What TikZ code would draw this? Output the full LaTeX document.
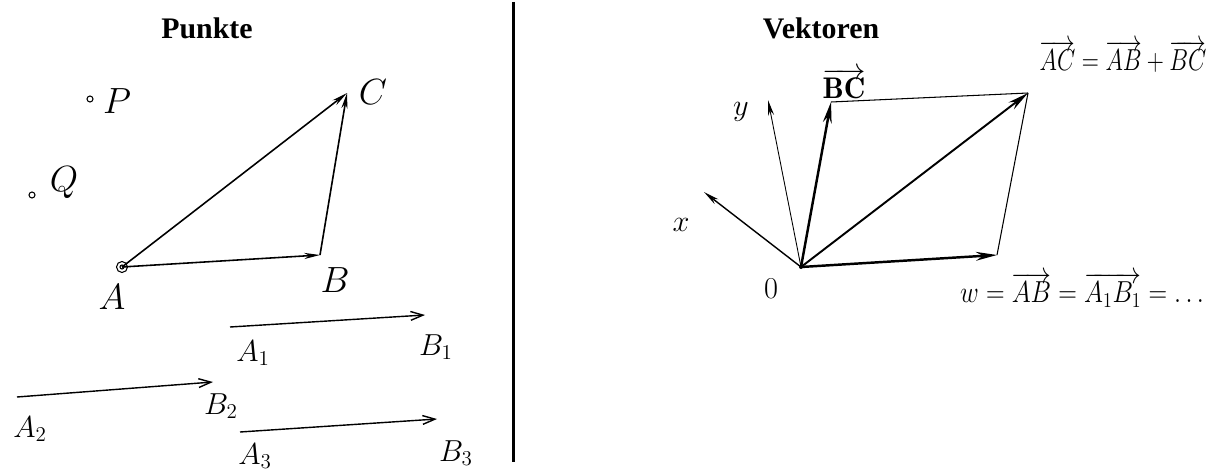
\documentclass[tikz,border=0pt]{standalone}
\usepackage{fontspec}
\usepackage{graphicx}
\newfontfamily\titlefont{Liberation Serif}
\usetikzlibrary{arrows.meta}
\begin{document}
\begin{tikzpicture}[x=0.02cm,y=-0.02cm,
  ttl/.style={font=\titlefont\bfseries\fontsize{17}{20}\selectfont, anchor=base},
  lbl/.style={font=\fontsize{20}{24}\selectfont, inner sep=0pt},
  slbl/.style={font=\fontsize{17}{20}\selectfont, inner sep=0pt},
  thin vec/.style={line width=0.6pt, -{Stealth[length=9pt,width=3.5pt]}},
  thick vec/.style={line width=1.4pt, -{Stealth[length=12pt,width=5pt]}},
  open vec/.style={line width=0.8pt, -{Straight Barb[length=7pt,width=5pt]}},
  edge line/.style={line width=0.6pt},
  divider/.style={line width=1.7pt}]
\useasboundingbox (0,0) rectangle (1226,473);
\clip (0,0) rectangle (1226,473);

% titles
\node[ttl] (tp) at (207,39) {Punkte};
\node[ttl] (tv) at (821,39) {Vektoren};

% divider
\coordinate (d1) at (513,2);
\coordinate (d2) at (513,462);
\draw[divider] (d1) -- (d2);

% ---------- left: points ----------
\coordinate (P) at (90,99);
\coordinate (Q) at (32,195);
\coordinate (A) at (122,267);
\coordinate (B) at (320,255);
\coordinate (C) at (347,93);
\draw[line width=0.6pt] (P) circle (3);
\draw[line width=0.6pt] (Q) circle (3);
\draw[line width=0.6pt] (A) circle (5.5);
\draw[line width=0.6pt] (A) circle (2);
\node[lbl] (lP) at (117,101) {$P$};
\node[lbl] (lQ) at (64,183) {$Q$};
\node[lbl] (lA) at (112,297) {$A$};
\node[lbl] (lB) at (335,280) {$B$};
\node[lbl] (lC) at (373,92) {$C$};
\draw[thin vec, line width=0.9pt] (A) -- (B);
\draw[thin vec, line width=0.9pt] (A) -- (C);
\draw[thin vec, line width=0.9pt] (B) -- (C);

% parallel arrows
\coordinate (A1) at (230,327);
\coordinate (B1) at (425,315);
\coordinate (A2) at (17,397);
\coordinate (B2) at (213,382);
\coordinate (A3) at (240,432);
\coordinate (B3) at (437,419);
\draw[open vec] (A1) -- (B1);
\draw[open vec] (A2) -- (B2);
\draw[open vec] (A3) -- (B3);
\node[slbl] (lA1) at (253,353) {$A_1$};
\node[slbl] (lB1) at (436,347) {$B_1$};
\node[slbl] (lA2) at (30,429) {$A_2$};
\node[slbl] (lB2) at (221,406) {$B_2$};
\node[slbl] (lA3) at (255,456) {$A_3$};
\node[slbl] (lB3) at (456,453) {$B_3$};

% ---------- right: vectors ----------
\coordinate (O) at (801,267);
\coordinate (Y) at (768,100);
\coordinate (X) at (704,192);
\coordinate (BCt) at (831,102);
\coordinate (ACt) at (1028,93);
\coordinate (ABt) at (997,255);
\draw[edge line] (BCt) -- (ACt);
\draw[edge line] (ABt) -- (ACt);
\draw[thin vec, line width=0.5pt] (O) -- (Y);
\draw[thin vec, line width=0.8pt] (O) -- (X);
\draw[thick vec] (O) -- (BCt);
\draw[thick vec, line width=1.1pt] (O) -- (ACt);
\draw[thick vec] (O) -- (ABt);
\fill (O) circle (2);

\node[slbl] (ly) at (741,112) {$y$};
\node[slbl] (lx) at (681,225) {$x$};
\node[slbl] (l0) at (771,289) {$0$};
\node[slbl] (lBC) at (844,84) {$\overrightarrow{\mathbf{BC}}$};
\node[slbl] (lsum) at (1123,56) {\scalebox{0.78}[1]{$\overrightarrow{AC}=\overrightarrow{AB}+\overrightarrow{BC}$}};
\node[slbl] (lw) at (1082,290) {\scalebox{0.85}[1]{$w=\overrightarrow{AB}=\overrightarrow{A_1B_1}=\ldots$}};
\end{tikzpicture}
\end{document}
